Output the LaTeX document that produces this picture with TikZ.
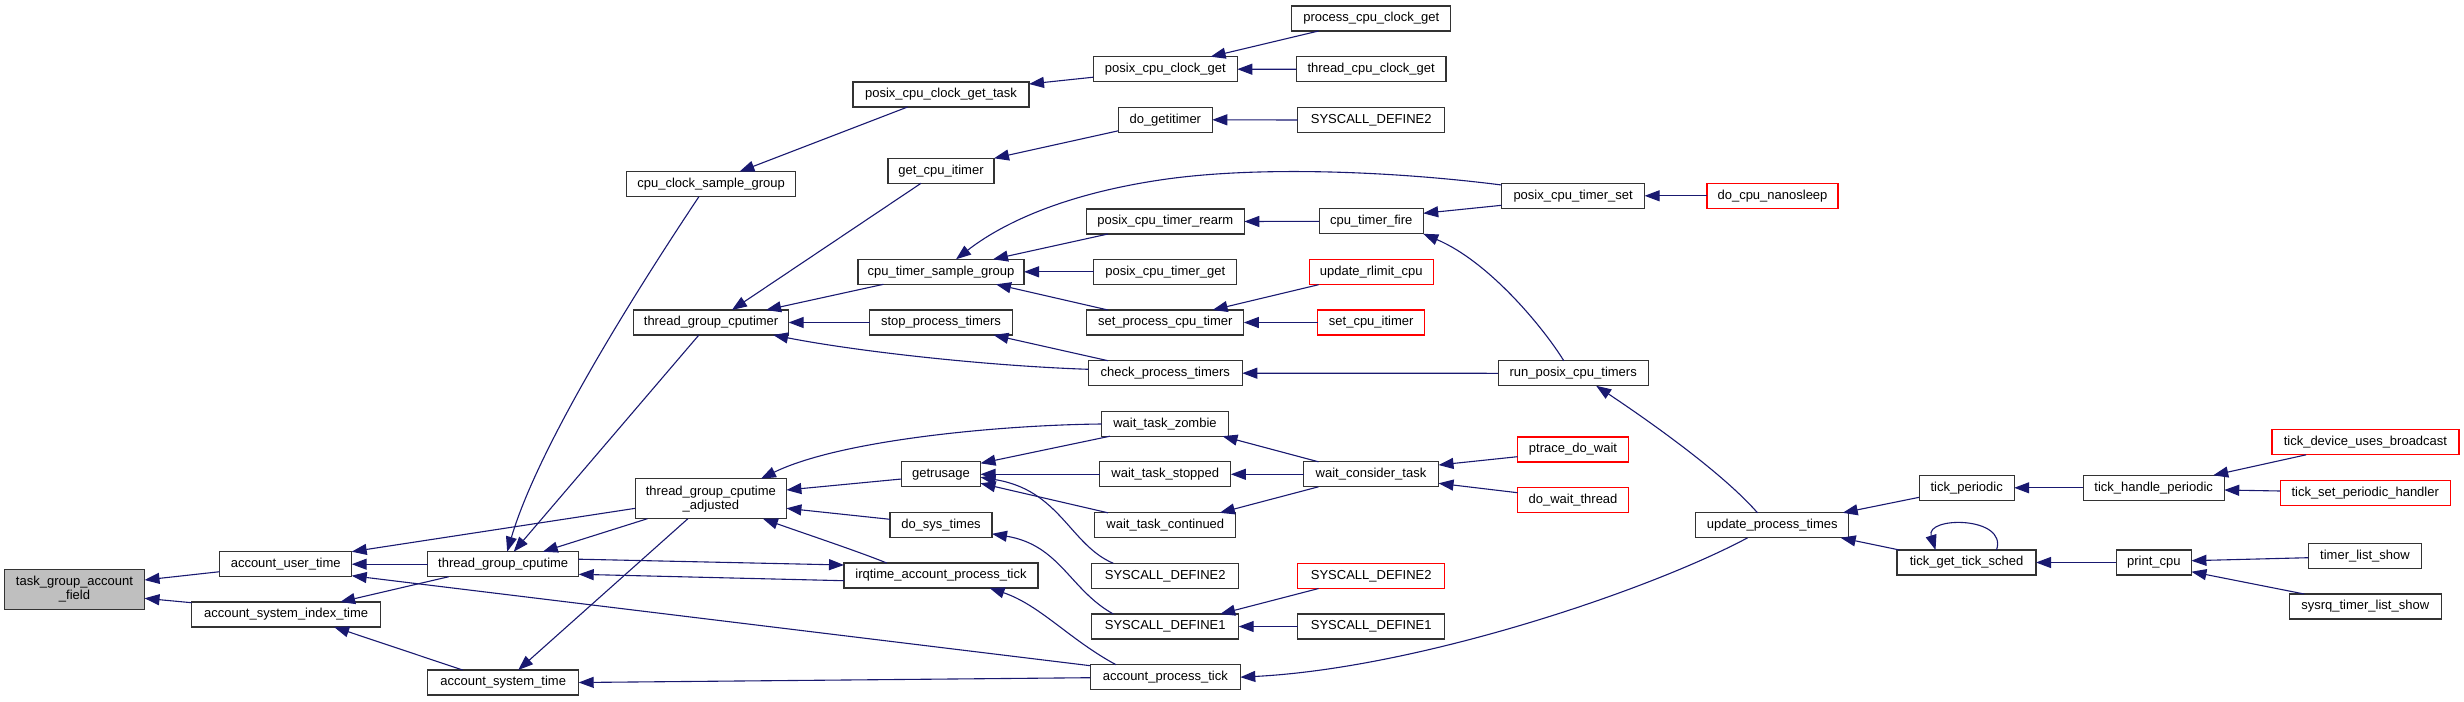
\documentclass[tikz,border=0pt]{standalone}
\usepackage{fontspec}
\newfontfamily\dox{Liberation Sans}
\usetikzlibrary{arrows.meta,calc}
\definecolor{edgeblue}{HTML}{191970}
\definecolor{boxgray}{HTML}{BFBFBF}
\definecolor{boxline}{HTML}{333333}
\begin{document}
\begin{tikzpicture}[x=1pt,y=-1pt,
  fn/.style={draw=boxline, line width=1.2pt, rectangle, inner sep=0pt, outer sep=0pt,
    minimum height=25pt, font=\dox\fontsize{13}{14}\selectfont, align=center, fill=white},
  rn/.style={fn, draw=red},
  e/.style={draw=edgeblue, line width=1.1pt, -{Triangle[length=15pt,width=11pt]}}]
\useasboundingbox (0,0) rectangle (2464,701);
% column 0-2
\node[fn, fill=boxgray, minimum width=140pt, minimum height=40pt] (tgaf) at (74.5,589.3) {task\_group\_account\\\_field};
\node[fn, minimum width=132pt] (aut) at (285.7,564.2) {account\_user\_time};
\node[fn, minimum width=189pt] (asit) at (286.1,614.5) {account\_system\_index\_time};
\node[fn, minimum width=151pt] (tgc) at (503.2,564.2) {thread\_group\_cputime};
\node[fn, minimum width=151pt] (ast) at (503.2,682.5) {account\_system\_time};
% column 3
\node[fn, minimum width=169pt] (ccsg) at (711.1,184.2) {cpu\_clock\_sample\_group};
\node[fn, minimum width=155pt] (tgcr) at (711.1,322.5) {thread\_group\_cputimer};
\node[fn, minimum width=151pt, minimum height=40pt] (tgca) at (710.9,498.7) {thread\_group\_cputime\\\_adjusted};
% column 4
\node[fn, minimum width=176pt] (pccgt) at (941,94.5) {posix\_cpu\_clock\_get\_task};
\node[fn, minimum width=106pt] (gci) at (941,170.8) {get\_cpu\_itimer};
\node[fn, minimum width=166pt] (ctsg) at (941,271.8) {cpu\_timer\_sample\_group};
\node[fn, minimum width=143pt] (spt) at (941,322.5) {stop\_process\_timers};
\node[fn, minimum width=79pt] (getr) at (941,474.3) {getrusage};
\node[fn, minimum width=102pt] (dst) at (941,525.3) {do\_sys\_times};
\node[fn, minimum width=194pt] (iapt) at (941,575.5) {irqtime\_account\_process\_tick};
% column 5
\node[fn, minimum width=144pt] (pccg) at (1165.3,69.2) {posix\_cpu\_clock\_get};
\node[fn, minimum width=94pt] (dgi) at (1165.3,119.8) {do\_getitimer};
\node[fn, minimum width=158pt] (pctr) at (1165.3,221.5) {posix\_cpu\_timer\_rearm};
\node[fn, minimum width=143pt] (pctg) at (1165.3,271.8) {posix\_cpu\_timer\_get};
\node[fn, minimum width=157pt] (spct) at (1165.3,322.5) {set\_process\_cpu\_timer};
\node[fn, minimum width=154pt] (cpt) at (1165.3,373.2) {check\_process\_timers};
\node[fn, minimum width=127pt] (wtz) at (1165,423.7) {wait\_task\_zombie};
\node[fn, minimum width=131pt] (wts) at (1165.3,474.3) {wait\_task\_stopped};
\node[fn, minimum width=141pt] (wtc) at (1165.3,525.3) {wait\_task\_continued};
\node[fn, minimum width=147pt] (sd2a) at (1165.2,575.8) {SYSCALL\_DEFINE2};
\node[fn, minimum width=147pt] (sd1a) at (1165.2,626.5) {SYSCALL\_DEFINE1};
\node[fn, minimum width=150pt] (apt) at (1165.3,677.2) {account\_process\_tick};
% column 6
\node[fn, minimum width=159pt] (pcclk) at (1371.2,18.5) {process\_cpu\_clock\_get};
\node[fn, minimum width=149.5pt] (tccg) at (1371.2,69.3) {thread\_cpu\_clock\_get};
\node[fn, minimum width=147pt] (sd2b) at (1371.2,120) {SYSCALL\_DEFINE2};
\node[fn, minimum width=104pt] (ctf) at (1371.2,221.3) {cpu\_timer\_fire};
\node[rn, minimum width=124pt] (urc) at (1371.2,272.2) {update\_rlimit\_cpu};
\node[rn, minimum width=107pt] (sci) at (1371.2,322.5) {set\_cpu\_itimer};
\node[fn, minimum width=135pt] (wct) at (1371,474.3) {wait\_consider\_task};
\node[rn, minimum width=147pt] (sd2c) at (1371.2,576) {SYSCALL\_DEFINE2};
\node[fn, minimum width=147pt] (sd1b) at (1371.2,626.5) {SYSCALL\_DEFINE1};
% column 7
\node[fn, minimum width=143pt] (pcts) at (1573.1,195.8) {posix\_cpu\_timer\_set};
\node[fn, minimum width=150pt] (rpct) at (1573.2,373.3) {run\_posix\_cpu\_timers};
\node[rn, minimum width=111pt] (pdw) at (1573,449.5) {ptrace\_do\_wait};
\node[rn, minimum width=111pt] (dwt) at (1573,499.8) {do\_wait\_thread};
% column 8+
\node[rn, minimum width=131pt] (dcn) at (1772.5,195.8) {do\_cpu\_nanosleep};
\node[fn, minimum width=153pt] (upt) at (1772.2,525.3) {update\_process\_times};
\node[fn, minimum width=95pt] (tp) at (1966.7,487.8) {tick\_periodic};
\node[fn, minimum width=139pt] (tgts) at (1966.5,562.5) {tick\_get\_tick\_sched};
\node[fn, minimum width=141pt] (thp) at (2153.7,487.8) {tick\_handle\_periodic};
\node[fn, minimum width=75pt] (pc) at (2153.9,562.5) {print\_cpu};
\node[rn, minimum width=187pt] (tdub) at (2365.4,442.3) {tick\_device\_uses\_broadcast};
\node[rn, minimum width=170pt] (tsph) at (2365.2,493.2) {tick\_set\_periodic\_handler};
\node[fn, minimum width=113.5pt] (tls) at (2365,555.7) {timer\_list\_show};
\node[fn, minimum width=152pt] (stls) at (2365.2,606.5) {sysrq\_timer\_list\_show};
% edges
\draw[e] ($(aut.west)+(0,7.5)$) -- ($(tgaf.east)+(0,-9.3)$);
\draw[e] ($(asit.north west)+(0,0.7)$) -- ($(tgaf.east)+(0,9)$);
\draw[e] (tgc.west) -- (aut.east);
\draw[e] ($(tgc.south)+(-54.4,0)$) -- ($(asit.north)+(54,0)$);
\draw[e] ($(ast.north)+(-40.6,0)$) -- ($(asit.south)+(48,0)$);
\draw[e] ($(tgca.west)+(0,9.6)$) -- (aut.north east);
\draw[e] ($(apt.north west)+(0,1)$) -- ($(aut.south east)+(0,-1)$);
\draw[e] ($(ccsg.south)+(-12.2,0)$) .. controls (650,270) and (540,440) .. ($(tgc.north)+(4,0)$);
\draw[e] ($(tgcr.south)+(-12.2,0)$) -- ($(tgc.north)+(10.5,0)$);
\draw[e] ($(tgca.south west)+(12,0)$) -- ($(tgc.north)+(39.6,0)$);
\draw[e] ($(tgc.east)+(0,-5)$) -- ($(iapt.west)+(0,-10.5)$);
\draw[e] ($(iapt.west)+(0,5.2)$) -- ($(tgc.east)+(0,10.1)$);
\draw[e] ($(apt.west)+(0,0.5)$) -- (ast.east);
\draw[e] ($(tgca.south)+(-23,0)$) -- ($(ast.north)+(15,0)$);
\draw[e] ($(pccgt.south)+(-33.4,0)$) -- ($(ccsg.north)+(28.3,0)$);
\draw[e] ($(pccg.west)+(0,8)$) -- ($(pccgt.east)+(0,-10.5)$);
\draw[e] ($(pcclk.south)+(-52.6,0)$) -- ($(pccg.north)+(45.3,0)$);
\draw[e] (tccg.west) -- (pccg.east);
\draw[e] (sd2b.west) -- (dgi.east);
\draw[e] ($(dgi.south west)+(0,-1.5)$) -- (gci.north east);
\draw[e] ($(gci.south)+(-20,0)$) -- ($(tgcr.north)+(20.8,0)$);
\draw[e] ($(ctsg.south)+(-57.5,0)$) -- ($(tgcr.north)+(55,0)$);
\draw[e] (spt.west) -- (tgcr.east);
\draw[e] ($(cpt.west)+(0,-3.9)$) .. controls (990,366) and (860,352) .. ($(tgcr.south)+(62,0)$);
\draw[e] ($(cpt.north)+(-57.3,0)$) -- ($(spt.south)+(52.5,0)$);
\draw[e] ($(pcts.west)+(0,-10.8)$) .. controls (1400,172) and (1260,165) .. (1160,180) .. controls (1060,195) and (1000,225) .. ($(ctsg.north)+(15,0)$);
\draw[e] ($(pctr.south)+(-57.3,0)$) -- ($(ctsg.north)+(52,0)$);
\draw[e] (pctg.west) -- (ctsg.east);
\draw[e] ($(spct.north)+(-57.3,0)$) -- ($(ctsg.south)+(55,0)$);
\draw[e] (ctf.west) -- (pctr.east);
\draw[e] ($(pcts.west)+(0,9.5)$) -- ($(ctf.east)+(0,-8)$);
\draw[e] ($(rpct.north)+(-9.4,0)$) .. controls (1545,330) and (1490,262) .. (ctf.south east);
\draw[e] (dcn.west) -- (pcts.east);
\draw[e] ($(urc.south)+(-52.6,0)$) -- ($(spct.north)+(47.3,0)$);
\draw[e] (sci.west) -- (spct.east);
\draw[e] (rpct.west) -- (cpt.east);
\draw[e] ($(upt.north)+(-14.7,0)$) .. controls (1720,470) and (1640,415) .. ($(rpct.south)+(23,0)$);
\draw[e] ($(upt.south)+(-24.6,0)$) .. controls (1650,590) and (1420,668) .. (apt.east);
\draw[e] ($(tp.west)+(0,9.5)$) -- ($(upt.north east)+(-6,0)$);
\draw[e] ($(tgts.north west)+(2.5,0)$) -- ($(upt.south east)+(-8,0)$);
\draw[e] ($(tgts.north)+(30,0)$) .. controls (2008,516) and (1925,516) .. ($(tgts.north)+(-31,0)$);
\draw[e] (pc.west) -- (tgts.east);
\draw[e] (thp.west) -- (tp.east);
\draw[e] ($(tdub.south)+(-59.3,0)$) -- ($(thp.north east)+(-11,0)$);
\draw[e] ($(tsph.west)+(0,-2.2)$) -- ($(thp.east)+(0,2.2)$);
\draw[e] ($(tls.west)+(0,2)$) -- ($(pc.east)+(0,-1.8)$);
\draw[e] ($(stls.north)+(-61,0)$) -- ($(pc.south east)+(0,-3.3)$);
\draw[e] ($(getr.west)+(0,4.7)$) -- ($(tgca.east)+(0,-8.7)$);
\draw[e] ($(dst.west)+(0,-6)$) -- ($(tgca.east)+(0,9.6)$);
\draw[e] ($(iapt.north)+(-54.3,0)$) .. controls (860,552) and (800,532) .. ($(tgca.south)+(52,0)$);
\draw[e] ($(wtz.west)+(0,0.3)$) .. controls (1000,425) and (840,440) .. ($(tgca.north)+(50,0)$);
\draw[e] ($(wtz.south west)+(8.5,0)$) -- ($(getr.east)+(0,-11)$);
\draw[e] (wts.west) -- (getr.east);
\draw[e] ($(wtc.north west)+(13.2,0)$) -- ($(getr.east)+(0,9)$);
\draw[e] ($(sd2a.north west)+(21.6,0)$) .. controls (1070,545) and (1060,490) .. ($(getr.east)+(0,3)$);
\draw[e] ($(sd1a.north west)+(21.6,0)$) .. controls (1070,590) and (1060,545) .. ($(dst.south east)+(0,-4)$);
\draw[e] ($(apt.north west)+(25.7,0)$) .. controls (1070,640) and (1040,605) .. ($(iapt.south)+(48.5,0)$);
\draw[e] ($(wct.north west)+(15,0)$) -- ($(wtz.south east)+(-6,0)$);
\draw[e] (wct.west) -- (wts.east);
\draw[e] ($(wct.south west)+(15,0)$) -- ($(wtc.north east)+(-16,0)$);
\draw[e] ($(pdw.west)+(0,7.2)$) -- ($(wct.east)+(0,-9.3)$);
\draw[e] ($(dwt.west)+(0,-7.1)$) -- ($(wct.east)+(0,9)$);
\draw[e] ($(sd2c.south)+(-52.6,0)$) -- ($(sd1a.north)+(55,0)$);
\draw[e] (sd1b.west) -- (sd1a.east);
\end{tikzpicture}
\end{document}
